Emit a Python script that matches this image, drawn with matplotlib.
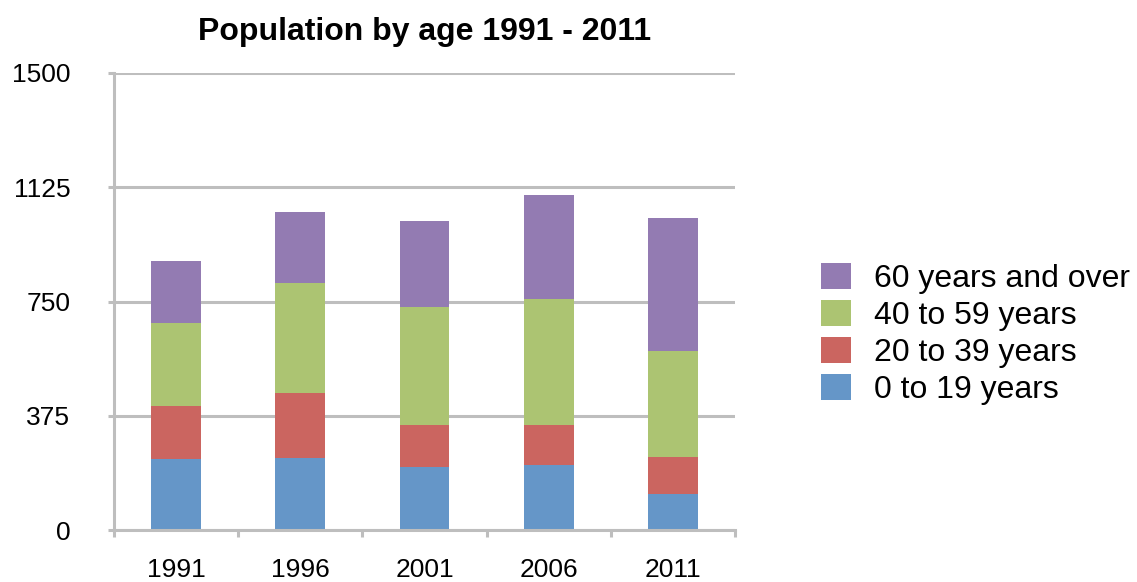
import numpy as np
import matplotlib
matplotlib.use("Agg")
import matplotlib.pyplot as plt
from matplotlib.patches import Patch

plt.rcParams['font.family'] = ['Liberation Sans', 'DejaVu Sans']

# data
years = ['1991', '1996', '2001', '2006', '2011']
age_0_19 = [233, 238, 207, 212, 119]
age_20_39 = [174, 213, 139, 134, 121]
age_40_59 = [274, 361, 385, 412, 346]
age_60_up = [202, 233, 282, 342, 438]

labels = ['0 to 19 years', '20 to 39 years', '40 to 59 years', '60 years and over']
colors = ['#6596C8', '#CB6560', '#ACC472', '#937BB2']
grid_col = '#BEBEBE'

fig = plt.figure(figsize=(11.37, 5.82), dpi=100)
ax = fig.add_axes([0.1003, 0.0893, 0.5461, 0.7853])

x = np.arange(len(years))
series = [age_0_19, age_20_39, age_40_59, age_60_up]
bottom = np.zeros(len(years))
for vals, col in zip(series, colors):
    ax.bar(x, vals, width=0.4, bottom=bottom, color=col, zorder=3)
    bottom += np.array(vals)

ax.set_xlim(-0.5, len(years) - 0.5)
ax.set_ylim(0, 1500)
ax.set_yticks([0, 375, 750, 1125, 1500])
ax.yaxis.grid(True, color=grid_col, linewidth=2.2, zorder=1)
ax.tick_params(axis='y', length=4.5, width=2.2, color=grid_col, pad=27, labelsize=19)

ax.set_xticks(x)
ax.set_xticklabels(years)
ax.set_xticks(np.arange(-0.5, len(years)), minor=True)
ax.tick_params(axis='x', which='major', length=0, pad=20.5, labelsize=19)
ax.tick_params(axis='x', which='minor', length=5, width=2.2, color=grid_col)

for s in ['top', 'right']:
    ax.spines[s].set_visible(False)
ax.spines['left'].set_color(grid_col)
ax.spines['left'].set_linewidth(2.2)
ax.spines['bottom'].set_color(grid_col)
ax.spines['bottom'].set_linewidth(2.2)
ax.spines['bottom'].set_zorder(4)

ax.set_title('Population by age 1991 - 2011', fontsize=23, fontweight='bold', pad=24)

handles = [Patch(facecolor=c) for c in colors[::-1]]
fig.legend(handles, labels[::-1], loc='center left', bbox_to_anchor=(0.722, 0.426),
           frameon=False, fontsize=23, handlelength=0.94, handleheight=0.88,
           handletextpad=0.72, labelspacing=0.18, borderaxespad=0, borderpad=0)

fig.savefig('out.png', dpi=100)
